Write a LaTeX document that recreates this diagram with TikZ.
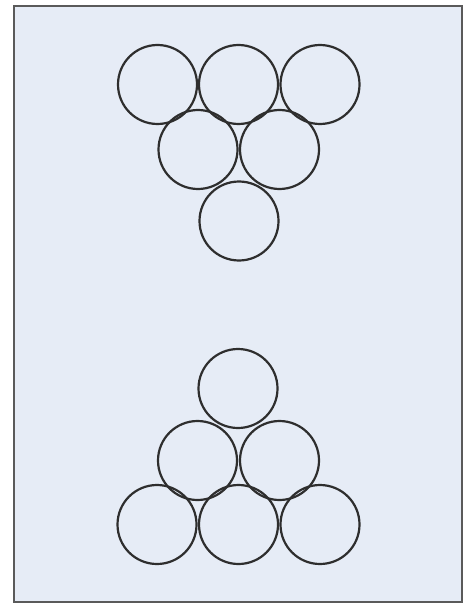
\documentclass[tikz,border=0pt]{standalone}
\definecolor{panel}{HTML}{E6ECF6}
\definecolor{framec}{HTML}{5A5A5A}
\definecolor{ballc}{HTML}{2E2E2E}
\begin{document}
\begin{tikzpicture}[x=1pt,y=-1pt,
  ball/.style={circle,draw=ballc,line width=2.2pt,minimum size=79pt,inner sep=0pt}]
\useasboundingbox (0,0) rectangle (466,604);
\fill[white] (0,0) rectangle (466,604);
\draw[framec,line width=2pt,fill=panel] (14,6) rectangle (462,602);
% top group
\node[ball] (t1) at (157.5,84.5) {};
\node[ball] (t2) at (238.5,84.5) {};
\node[ball] (t3) at (320,84.5) {};
\node[ball] (t4) at (198,149.5) {};
\node[ball] (t5) at (279.5,149.5) {};
\node[ball] (t6) at (239,221) {};
% bottom group
\node[ball] (b1) at (238,388.5) {};
\node[ball] (b2) at (197.5,460.5) {};
\node[ball] (b3) at (279.5,460.5) {};
\node[ball] (b4) at (157,524.5) {};
\node[ball] (b5) at (238.5,524.5) {};
\node[ball] (b6) at (320,524.5) {};
\end{tikzpicture}
\end{document}
